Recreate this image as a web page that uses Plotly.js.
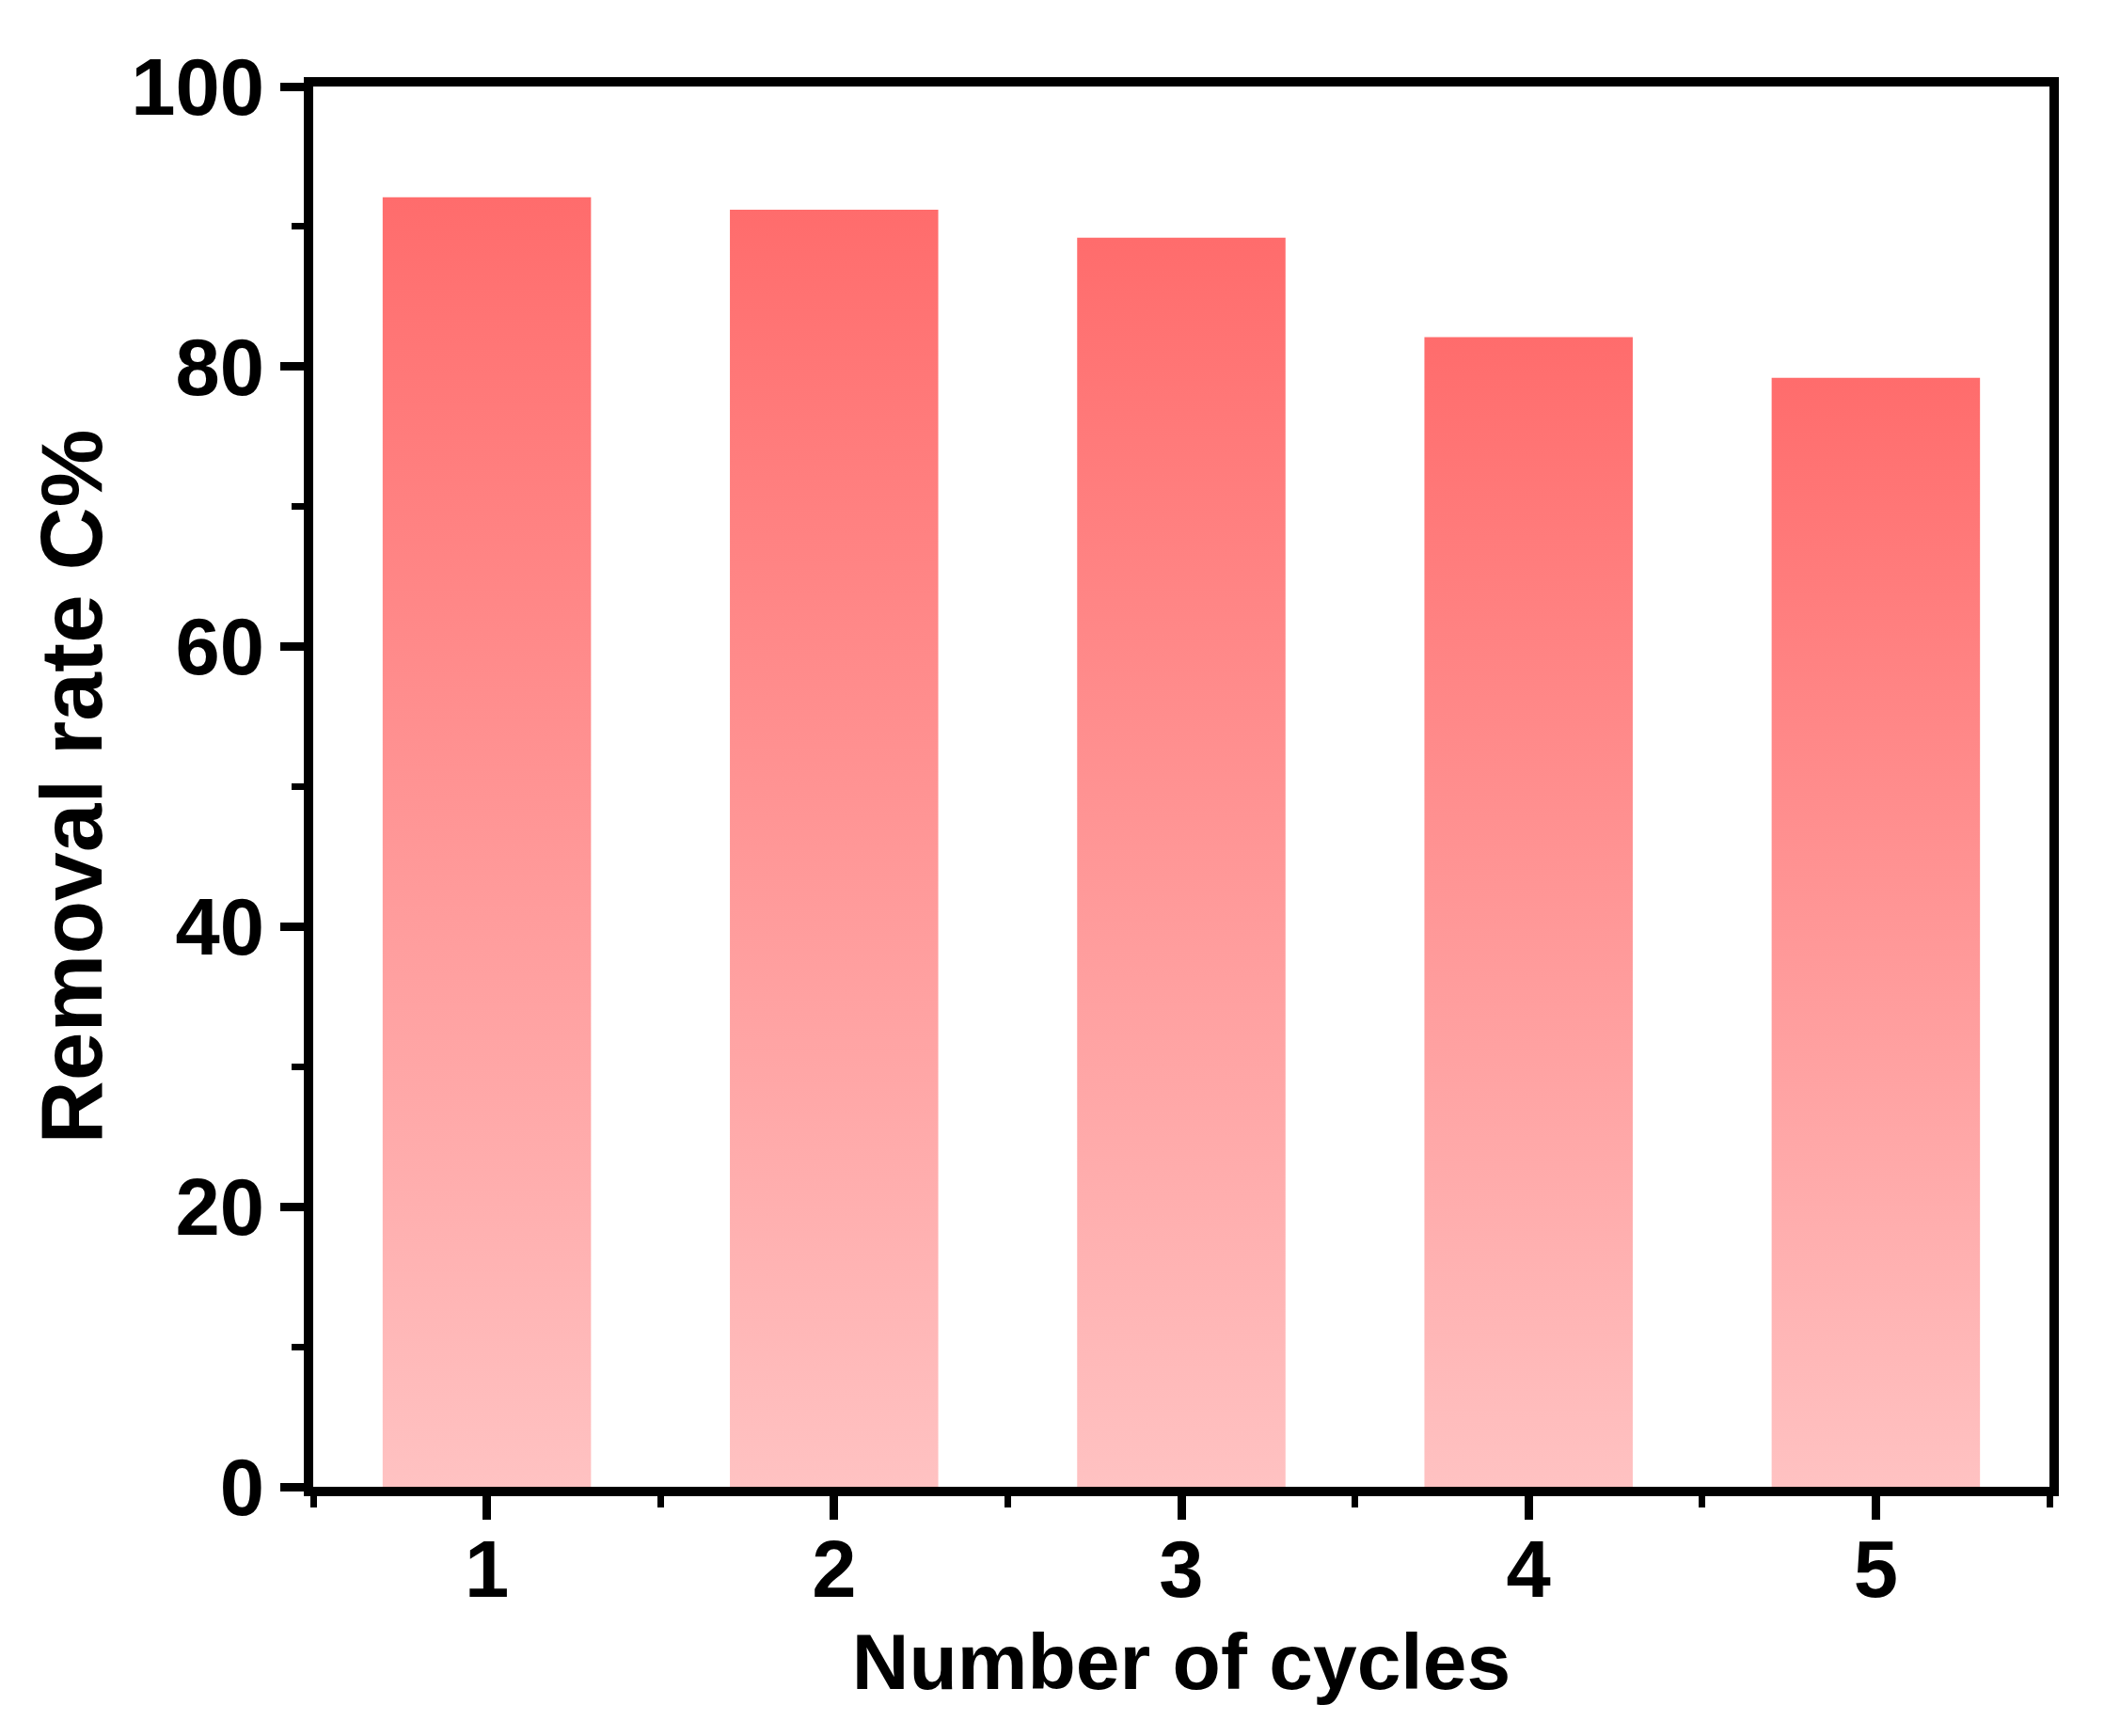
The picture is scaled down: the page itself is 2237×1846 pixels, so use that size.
<!DOCTYPE html>
<html>
<head>
<meta charset="utf-8">
<script src="https://cdn.plot.ly/plotly-3.0.1.min.js"></script>
<style>html,body{margin:0;padding:0;background:#fff;}#chart{width:2237px;height:1846px;}</style>
</head>
<body>
<div id="chart"></div>
<script>
// ---- data ----
const cycles = [1, 2, 3, 4, 5];
const removalRate = [92.1, 91.2, 89.2, 82.1, 79.2];
const xTickLabels = ['1', '2', '3', '4', '5'];
const xTitle = 'Number of cycles';
const yTitle = 'Removal rate C%';

// ---- style ----
const barWidth = 0.6;
const gradient = [[0, '#ffc2c2'], [1, '#ff6c6c']];
const fontFamily = 'Liberation Sans, Arial, sans-serif';

const traces = cycles.map((c, i) => {
  const v = removalRate[i];
  const x0 = c - barWidth / 2, x1 = c + barWidth / 2;
  return {
    type: 'scatter',
    mode: 'lines',
    x: [x0, x0, x1, x1, x0],
    y: [0, v, v, 0, 0],
    fill: 'toself',
    fillgradient: { type: 'vertical', colorscale: gradient },
    fillcolor: '#ff9a9a',
    line: { width: 0, color: 'rgba(0,0,0,0)' },
    hoverinfo: 'skip',
    showlegend: false
  };
});

const axisCommon = {
  showline: true, linewidth: 10, linecolor: '#000', mirror: true,
  showgrid: false, zeroline: false,
  ticks: 'outside', ticklen: 25, tickwidth: 9, tickcolor: '#000',
  tickfont: { family: fontFamily, size: 85, color: '#000', weight: 'bold' },
};

const layout = {
  width: 2237, height: 1846,
  margin: { l: 333, r: 58, t: 92, b: 265 },
  paper_bgcolor: '#fff', plot_bgcolor: '#fff',
  font: { family: fontFamily, color: '#000' },
  xaxis: Object.assign({}, axisCommon, {
    range: [0.5, 5.5],
    tickmode: 'array', tickvals: cycles, ticktext: xTickLabels,
    ticklabelstandoff: -20,
    minor: { ticks: 'outside', ticklen: 12, tickwidth: 7, tickcolor: '#000', dtick: 0.5, tick0: 0.5, showgrid: false },
    title: { text: xTitle, font: { family: fontFamily, size: 84, color: '#000', weight: 'bold' }, standoff: 26 }
  }),
  yaxis: Object.assign({}, axisCommon, {
    range: [0, 100], dtick: 20, tick0: 0,
    minor: { ticks: 'outside', ticklen: 13, tickwidth: 7, tickcolor: '#000', dtick: 10, showgrid: false },
    title: { text: yTitle, font: { family: fontFamily, size: 93, color: '#000', weight: 'bold' }, standoff: 4 }
  })
};

Plotly.newPlot('chart', traces, layout, { staticPlot: true, displayModeBar: false });
</script>
</body>
</html>
